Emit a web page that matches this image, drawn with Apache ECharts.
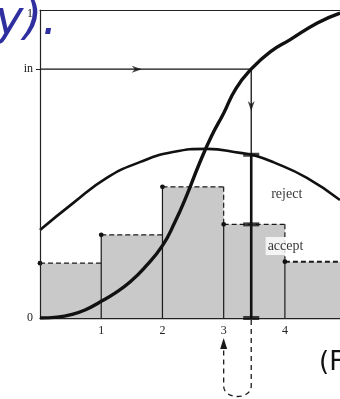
<!DOCTYPE html>
<html>
<head>
<meta charset="utf-8">
<script src="https://cdn.jsdelivr.net/npm/echarts@6/dist/echarts.min.js"></script>
<style>
  html, body { margin: 0; padding: 0; background: #ffffff; }
  #chart { width: 340px; height: 399px; }
</style>
</head>
<body>
<div id="chart"></div>
<script>
// Histogram of the target distribution (bin edges and heights)
const binEdges = [0, 1, 2, 3, 4, 5];
const binHeights = [0.178, 0.27, 0.426, 0.304, 0.183];

// Envelope (scaled proposal density)
const envelopeX = [0, 0.54, 1.09, 1.63, 2.17, 2.73, 3.27, 3.48, 3.81, 4.36, 4.9];
const envelopeY = [0.286, 0.373, 0.455, 0.506, 0.539, 0.549, 0.536, 0.529, 0.506, 0.455, 0.383];

// Cumulative distribution of the proposal
const cdfX = [0, 0.278, 0.49, 0.735, 0.98, 1.225, 1.47, 1.715, 2.0, 2.2, 2.4, 2.6, 2.8, 3.0, 3.2, 3.45, 3.76, 4.08, 4.53, 4.9];
const cdfY = [0, 0.003, 0.01, 0.026, 0.052, 0.081, 0.117, 0.165, 0.235, 0.31, 0.4, 0.5, 0.59, 0.665, 0.745, 0.808, 0.864, 0.903, 0.958, 0.99];

// Uniform input, resulting sample, and the heights tested at the sample
const uniformIn = 0.808;
const sampleX = 3.45;
const envelopeAtSample = 0.53;
const targetAtSample = 0.304;

// Axis ticks
const xTickValues = [1, 2, 3, 4];
const xTickLabels = ['1', '2', '3', '4'];
const yTickValues = [0, 0.808, 1];
const yTickLabels = ['0', 'in', '1'];

// Region labels
const regionNames = ['reject', 'accept'];
const regionAnchors = [[4.03, 0.403], [4.01, 0.234]];

const binData = binHeights.map((h, i) => [
  binEdges[i], binEdges[i + 1], h,
  i + 1 < binHeights.length ? binHeights[i + 1] : 0
]);

const chart = echarts.init(document.getElementById('chart'), null, { renderer: 'canvas' });

const ink = '#111111';
const labelFont = 'Liberation Serif';

const option = {
  animation: false,
  backgroundColor: '#ffffff',
  grid: { left: 40, right: 0, top: 10, bottom: 81, containLabel: false },
  xAxis: [
    {
      type: 'value', min: 0, max: 4.9, position: 'bottom',
      axisLine: { show: true, onZero: false, lineStyle: { color: '#222', width: 1.4 } },
      axisTick: { show: false },
      splitLine: { show: false },
      axisLabel: {
        show: true, margin: 7,
        customValues: xTickValues,
        formatter: v => xTickLabels[xTickValues.indexOf(v)] || '',
        fontFamily: labelFont, fontSize: 12, color: '#222'
      }
    },
    {
      type: 'value', min: 0, max: 4.9, position: 'top',
      axisLine: { show: true, onZero: false, lineStyle: { color: '#222', width: 1 } },
      axisTick: { show: false }, axisLabel: { show: false }, splitLine: { show: false }
    }
  ],
  yAxis: {
    type: 'value', min: 0, max: 1, z: 5,
    axisLine: { show: true, onZero: false, lineStyle: { color: '#222', width: 1.2 } },
    axisTick: { show: true, customValues: [uniformIn], length: 4, lineStyle: { color: '#222' } },
    splitLine: { show: false },
    axisLabel: {
      show: true, margin: 7,
      customValues: yTickValues,
      formatter: v => {
        const t = yTickLabels[yTickValues.indexOf(v)] || '';
        return v === 1 ? '{low|' + t + '}' : t;
      },
      rich: { low: { padding: [8, 0, 0, 0], fontFamily: labelFont, fontSize: 12, color: '#222' } },
      fontFamily: labelFont, fontSize: 12, color: '#222'
    }
  },
  series: [
    {
      // histogram bins: grey fill, solid left edge, dashed top with a dot
      type: 'custom',
      z: 1,
      data: binData,
      renderItem: (params, api) => {
        const x0 = api.value(0), x1 = api.value(1), h = api.value(2), nh = api.value(3);
        const pb = api.coord([x0, 0]);
        const pt = api.coord([x1, h]);
        const last = params.dataIndex === binHeights.length - 1;
        const children = [
          { type: 'rect', z2: 0,
            shape: { x: pb[0], y: pt[1], width: pt[0] - pb[0], height: pb[1] - pt[1] },
            style: { fill: '#c9c9c9' } },
          { type: 'line', z2: 2,
            shape: { x1: pb[0], y1: pt[1], x2: pt[0], y2: pt[1] },
            style: { stroke: '#1a1a1a', lineWidth: last ? 2 : 1.3, lineDash: [5, 3] } },
          { type: 'circle', z2: 3,
            shape: { cx: pb[0], cy: pt[1], r: 2.4 },
            style: { fill: '#111' } }
        ];
        if (x0 > 0) {
          children.push({ type: 'line', z2: 1,
            shape: { x1: pb[0], y1: pb[1], x2: pb[0], y2: pt[1] },
            style: { stroke: '#1a1a1a', lineWidth: 1.2 } });
        }
        if (nh < h) {
          const pn = api.coord([x1, nh]);
          children.push({ type: 'line', z2: 2,
            shape: { x1: pt[0], y1: pt[1], x2: pt[0], y2: pn[1] },
            style: { stroke: '#1a1a1a', lineWidth: 1.2, lineDash: [5, 3] } });
        }
        return { type: 'group', children };
      }
    },
    {
      // horizontal line from the uniform input to the CDF
      type: 'line', z: 3, symbol: 'none',
      data: [[0, uniformIn], [sampleX, uniformIn]],
      lineStyle: { color: ink, width: 1.2 }
    },
    {
      // thin drop from the CDF to the envelope
      type: 'line', z: 3, symbol: 'none',
      data: [[sampleX, uniformIn], [sampleX, envelopeAtSample]],
      lineStyle: { color: ink, width: 1.3 }
    },
    {
      // thick segment from the envelope to the axis
      type: 'line', z: 3, symbol: 'none',
      data: [[sampleX, envelopeAtSample], [sampleX, 0]],
      lineStyle: { color: ink, width: 2.6 }
    },
    {
      type: 'line', z: 4, symbol: 'none', smooth: 0.5,
      data: envelopeX.map((x, i) => [x, envelopeY[i]]),
      lineStyle: { color: ink, width: 2.6 }
    },
    {
      type: 'line', z: 5, symbol: 'none', smooth: 0.5,
      data: cdfX.map((x, i) => [x, cdfY[i]]),
      lineStyle: { color: ink, width: 3.4 }
    },
    {
      // arrowheads on the lookup path
      type: 'scatter', z: 6,
      data: [
        { value: [1.58, uniformIn], symbol: 'path://M0,0 L10,4 L0,8 L3,4 Z', symbolSize: [10, 7] },
        { value: [sampleX, 0.688], symbol: 'path://M0,0 L4,3 L8,0 L4,10 Z', symbolSize: [7, 10] }
      ],
      itemStyle: { color: ink }
    },
    {
      // markers where the sample meets the envelope, the bin top and the axis
      type: 'scatter', z: 6, symbol: 'rect', symbolSize: [16, 4],
      data: [[sampleX, envelopeAtSample], [sampleX, targetAtSample], [sampleX, 0]],
      itemStyle: { color: ink },
      clip: false
    },
    {
      type: 'scatter', z: 7, symbolSize: 0,
      data: regionNames.map((n, i) => ({ name: n, value: regionAnchors[i] })),
      label: {
        show: true, position: 'inside', formatter: p => p.name,
        fontFamily: labelFont, fontSize: 14, color: '#000',
        backgroundColor: '#ffffff', padding: [2, 2]
      }
    },
    {
      // dashed return path below the axis back to the input
      type: 'custom', z: 6, clip: false,
      data: [[3, sampleX]],
      renderItem: (params, api) => {
        const a = api.coord([api.value(0), 0]);
        const b = api.coord([api.value(1), 0]);
        const bot = a[1] + 68;
        return {
          type: 'group',
          children: [
            { type: 'path',
              shape: { pathData: 'M' + b[0] + ',' + (b[1] + 2) + ' L' + b[0] + ',' + bot +
                ' C' + b[0] + ',' + (bot + 14) + ' ' + a[0] + ',' + (bot + 14) + ' ' + a[0] + ',' + bot +
                ' L' + a[0] + ',' + (a[1] + 31) },
              style: { fill: 'none', stroke: '#1a1a1a', lineWidth: 1.3, lineDash: [5, 4] } },
            { type: 'polygon',
              shape: { points: [[a[0], a[1] + 20], [a[0] - 3.5, a[1] + 31], [a[0] + 3.5, a[1] + 31]] },
              style: { fill: '#1a1a1a' } }
          ]
        };
      }
    }
  ],
  graphic: [
    { type: 'text', left: -5, top: -2, z: -10,
      style: { text: 'y).', font: 'italic 48px "DejaVu Sans"', fill: '#2f2fa0' } },
    { type: 'text', left: 319, top: 350,
      style: { text: '(F', font: '26px "DejaVu Sans"', fill: '#111' } }
  ]
};

chart.setOption(option);
</script>
</body>
</html>
